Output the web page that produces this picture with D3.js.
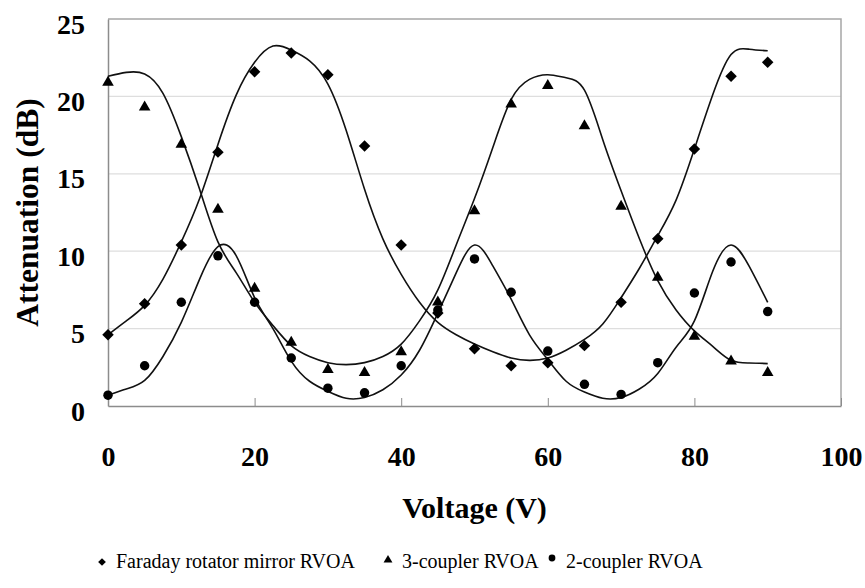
<!DOCTYPE html>
<html>
<head>
<meta charset="utf-8">
<script src="https://cdn.jsdelivr.net/npm/d3@7"></script>
<style>
  html, body { margin: 0; padding: 0; background: #fff; }
  svg { display: block; }
  text { font-family: "Liberation Serif", "Times New Roman", serif; fill: #000; }
</style>
</head>
<body>
<svg id="chart" width="865" height="588"></svg>
<script>
// ---- data ----
const voltages = [0, 5, 10, 15, 20, 25, 30, 35, 40, 45, 50, 55, 60, 65, 70, 75, 80, 85, 90];
const faradayValues = [4.6, 6.6, 10.4, 16.4, 21.6, 22.8, 21.4, 16.8, 10.4, 6.0, 3.7, 2.6, 2.8, 3.9, 6.7, 10.8, 16.6, 21.3, 22.2];
const threeCouplerValues = [20.9, 19.3, 16.9, 12.7, 7.6, 4.1, 2.35, 2.15, 3.5, 6.7, 12.6, 19.5, 20.7, 18.1, 12.9, 8.3, 4.5, 2.9, 2.15];
const twoCouplerValues = [0.7, 2.6, 6.7, 9.7, 6.7, 3.1, 1.15, 0.85, 2.6, 6.2, 9.5, 7.35, 3.55, 1.4, 0.75, 2.8, 7.3, 9.3, 6.1];

// fitted curves (every 2.5 V)
const fitVoltages = [0, 2.5, 5, 7.5, 10, 12.5, 15, 17.5, 20, 22.5, 25, 27.5, 30, 32.5, 35, 37.5, 40, 42.5, 45, 47.5, 50, 52.5, 55, 57.5, 60, 62.5, 65, 67.5, 70, 72.5, 75, 77.5, 80, 82.5, 85, 87.5, 90];
const fitFaraday = [4.6, 5.5, 6.5, 8.2, 10.6, 13.4, 16.9, 20.1, 22.2, 23.25, 23.0, 22.3, 20.8, 17.8, 14.0, 10.8, 8.5, 6.7, 5.4, 4.6, 4.0, 3.5, 3.1, 2.95, 3.1, 3.6, 4.3, 5.3, 7.0, 8.9, 11.0, 13.3, 16.6, 20.1, 22.7, 23.05, 22.95];
const fitThreeCoupler = [21.3, 21.55, 21.45, 20.2, 17.4, 14.0, 10.6, 8.6, 6.7, 5.2, 3.9, 3.2, 2.8, 2.67, 2.8, 3.2, 4.0, 5.5, 7.5, 10.4, 13.4, 16.7, 19.8, 21.1, 21.4, 21.2, 20.4, 17.2, 13.9, 10.8, 8.1, 6.2, 4.85, 3.85, 2.95, 2.78, 2.74];
const fitTwoCoupler = [0.7, 1.1, 1.65, 3.2, 5.4, 8.2, 10.3, 9.7, 7.0, 5.0, 2.9, 1.6, 0.95, 0.5, 0.55, 1.05, 2.0, 3.6, 6.0, 8.6, 10.4, 9.05, 6.9, 4.6, 3.0, 1.6, 0.9, 0.5, 0.55, 1.1, 2.1, 3.8, 5.5, 8.7, 10.4, 9.0, 6.7];

const xTicks = [0, 20, 40, 60, 80, 100];
const yTicks = [0, 5, 10, 15, 20, 25];
const seriesNames = ["Faraday rotator mirror RVOA", "3-coupler RVOA", "2-coupler RVOA"];
const xTitle = "Voltage (V)";
const yTitle = "Attenuation (dB)";

// ---- drawing ----
const FONT = "'Liberation Serif', 'Times New Roman', serif";
const svg = d3.select("#chart");
const x = d3.scaleLinear().domain([0, 100]).range([108, 841]);
const y = d3.scaleLinear().domain([0, 25]).range([406, 19]);

// gridlines
svg.append("g").selectAll("line")
  .data(yTicks.filter(v => v > 0 && v < 25))
  .join("line")
  .attr("x1", x(0)).attr("x2", x(100))
  .attr("y1", d => y(d)).attr("y2", d => y(d))
  .attr("stroke", "#dedede").attr("stroke-width", 1.3);

// frame (top, right)
svg.append("path")
  .attr("d", `M${x(0)},${y(25)}H${x(100)}V${y(0)}`)
  .attr("fill", "none").attr("stroke", "#a6a6a6").attr("stroke-width", 1.5);

// x axis
const xAxis = svg.append("g")
  .attr("transform", `translate(0,${y(0)})`)
  .call(d3.axisBottom(x).tickValues(xTicks).tickFormat(d3.format("d")).tickSizeInner(-8).tickSizeOuter(0).tickPadding(40));
xAxis.attr("font-size", null).attr("font-family", null);
xAxis.select(".domain").attr("stroke", "#8c8c8c").attr("stroke-width", 1.5);
xAxis.selectAll(".tick line").attr("stroke", "#8c8c8c").attr("stroke-width", 1);
xAxis.selectAll(".tick text")
  .style("font-family", FONT)
  .style("font-weight", "bold").style("font-size", "28px").attr("fill", "#000");

// y axis
const yAxis = svg.append("g")
  .attr("transform", `translate(${x(0)},0)`)
  .call(d3.axisLeft(y).tickValues(yTicks).tickFormat(d3.format("d")).tickSize(0).tickPadding(23));
yAxis.attr("font-size", null).attr("font-family", null);
yAxis.select(".domain").attr("stroke", "#8c8c8c").attr("stroke-width", 1.5);
yAxis.selectAll(".tick text")
  .attr("dy", "0.5em")
  .style("font-family", FONT)
  .style("font-weight", "bold").style("font-size", "28px").attr("fill", "#000");

// axis titles
svg.append("text")
  .attr("x", (x(0) + x(100)) / 2).attr("y", 518)
  .attr("text-anchor", "middle")
  .style("font-family", FONT)
  .style("font-weight", "bold").style("font-size", "30px")
  .text(xTitle);
svg.append("text")
  .attr("transform", `translate(38,${(y(0) + y(25)) / 2}) rotate(-90)`)
  .attr("text-anchor", "middle")
  .style("font-family", FONT)
  .style("font-weight", "bold").style("font-size", "31.5px")
  .text(yTitle);

// fitted curves
const line = d3.line()
  .x(d => x(d[0])).y(d => y(d[1]))
  .curve(d3.curveNatural);
const fits = [fitFaraday, fitThreeCoupler, fitTwoCoupler].map(a => d3.zip(fitVoltages, a));
svg.append("g").selectAll("path")
  .data(fits)
  .join("path")
  .attr("d", line)
  .attr("fill", "none").attr("stroke", "#111").attr("stroke-width", 1.6);

// markers
const seriesDefs = [
  { values: faradayValues, d: d3.symbol().type(d3.symbolSquare).size(66)(), rot: 45 },
  { values: threeCouplerValues, d: d3.symbol().type(d3.symbolTriangle).size(58)(), rot: 0 },
  { values: twoCouplerValues, d: d3.symbol().type(d3.symbolCircle).size(70)(), rot: 0 }
];
seriesDefs.forEach(s => {
  svg.append("g").selectAll("path")
    .data(d3.zip(voltages, s.values))
    .join("path")
    .attr("d", s.d)
    .attr("transform", d => `translate(${x(d[0])},${y(d[1])}) rotate(${s.rot})`)
    .attr("fill", "#000");
});

// legend
const legend = svg.append("g");
const legendSyms = [
  { d: d3.symbol().type(d3.symbolSquare).size(30)(), rot: 45, dy: -6 },
  { d: d3.symbol().type(d3.symbolTriangle).size(34)(), rot: 0, dy: -8 },
  { d: d3.symbol().type(d3.symbolCircle).size(36)(), rot: 0, dy: -10 }
];
const legendX = [102, 388, 552];
const legendBaseline = 568;
seriesNames.forEach((name, i) => {
  legend.append("path")
    .attr("d", legendSyms[i].d)
    .attr("transform", `translate(${legendX[i]},${legendBaseline + legendSyms[i].dy}) rotate(${legendSyms[i].rot})`)
    .attr("fill", "#000");
  legend.append("text")
    .attr("x", legendX[i] + 14).attr("y", legendBaseline)
    .style("font-family", FONT)
    .style("font-size", "20px")
    .text(name);
});
</script>
</body>
</html>
